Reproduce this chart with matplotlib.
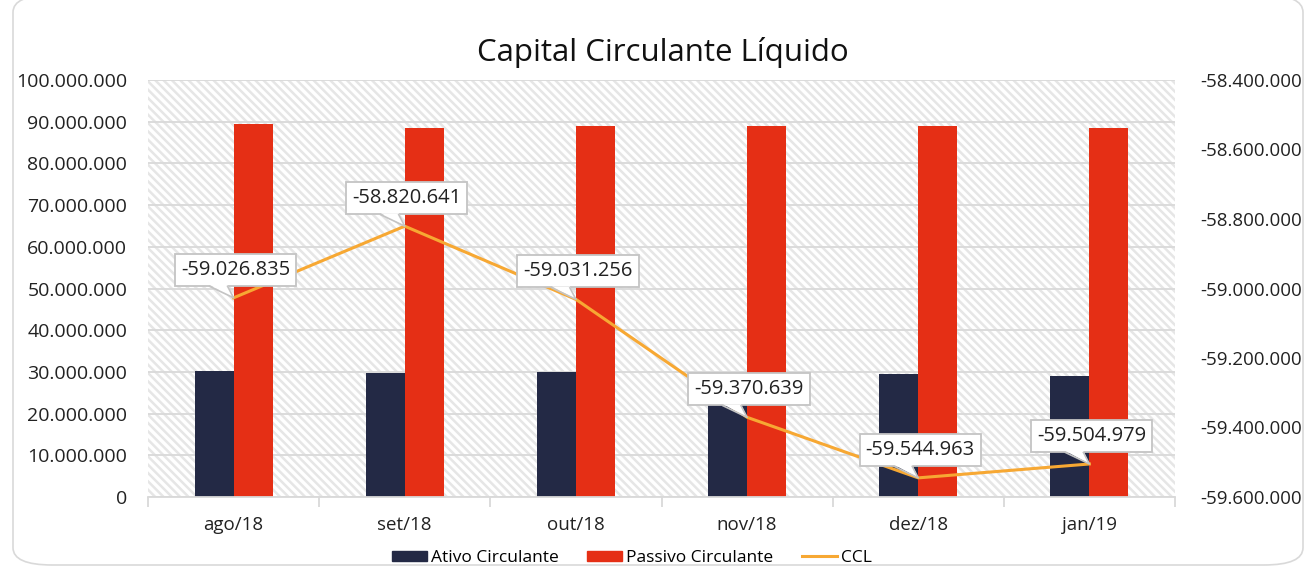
import matplotlib
matplotlib.use("Agg")
import matplotlib.pyplot as plt
from matplotlib.patches import Rectangle, FancyBboxPatch, Polygon
from matplotlib.ticker import FuncFormatter, MultipleLocator
from matplotlib.lines import Line2D
from matplotlib.transforms import IdentityTransform

plt.rcParams['font.family'] = ['Open Sans', 'DejaVu Sans']
plt.rcParams['hatch.linewidth'] = 1.8
plt.rcParams['hatch.color'] = '#e6e6e6'

categories = ["ago/18", "set/18", "out/18", "nov/18", "dez/18", "jan/19"]
ativo = [30300000, 29700000, 29970000, 29600000, 29400000, 29100000]
passivo = [89330000, 88520000, 89000000, 88970000, 88950000, 88600000]
ccl = [-59026835, -58820641, -59031256, -59370639, -59544963, -59504979]
ccl_labels = ["-59.026.835", "-58.820.641", "-59.031.256", "-59.370.639", "-59.544.963", "-59.504.979"]

NAVY = "#232945"
RED = "#E52F15"
ORANGE = "#F7A833"
GRID = "#d9d9d9"

W, H = 1310, 575
fig = plt.figure(figsize=(W / 100, H / 100), dpi=100)

# outer rounded border
fig.patches.append(FancyBboxPatch((13 / W, 10 / H), (W - 20) / W, (H - 5) / H,
                                  boxstyle="round,pad=0,rounding_size=0.03",
                                  transform=fig.transFigure, fc="white", ec="#d9d9d9", lw=1.2,
                                  zorder=-10))

ax = fig.add_axes([148 / W, (H - 497) / H, (1175 - 148) / W, (497 - 80) / H])
ax.set_facecolor("none")
ax.add_patch(Rectangle((0, 0), 1, 1, transform=ax.transAxes, fc="white",
                       ec="#e6e6e6", hatch="\\\\\\\\", lw=0, zorder=0))

x = list(range(len(categories)))
bw = 0.228
ax.bar([i - bw / 2 for i in x], ativo, width=bw, color=NAVY, zorder=3, label="Ativo Circulante")
ax.bar([i + bw / 2 for i in x], passivo, width=bw, color=RED, zorder=3, label="Passivo Circulante")

ax.set_xlim(-0.5, len(categories) - 0.5)
ax.set_ylim(0, 100000000)
ax.yaxis.set_major_locator(MultipleLocator(10000000))
fmt = lambda v, p: "0" if v == 0 else f"{v:,.0f}".replace(",", ".")
ax.yaxis.set_major_formatter(FuncFormatter(fmt))
ax.grid(axis="y", color=GRID, lw=1.3, zorder=1)
ax.set_axisbelow(False)
for s in ["top", "right", "left"]:
    ax.spines[s].set_visible(False)
ax.spines["bottom"].set_color(GRID)
ax.spines["bottom"].set_linewidth(1.3)
ax.spines["bottom"].set_zorder(4)
ax.set_xticks(x)
ax.set_xticklabels(categories)
ax.set_xticks([i - 0.5 for i in range(len(categories) + 1)], minor=True)
ax.tick_params(axis="x", which="major", length=0, labelsize=13.5, pad=14, colors="#222222")
ax.tick_params(axis="x", which="minor", length=7, color=GRID, width=1.3)
ax.tick_params(axis="y", length=0, labelsize=14, pad=15, colors="#222222")

ax2 = ax.twinx()
ax2.set_ylim(-59600000, -58400000)
ax2.yaxis.set_major_locator(MultipleLocator(200000))
ax2.yaxis.set_major_formatter(FuncFormatter(lambda v, p: f"{v:,.0f}".replace(",", ".")))
ax2.tick_params(axis="y", length=0, labelsize=13.5, pad=18, colors="#222222")
for s in ["top", "right", "left", "bottom"]:
    ax2.spines[s].set_visible(False)
ax2.plot(x, ccl, color=ORANGE, lw=2.2, zorder=5, label="CCL")

BOX_EC = "#c4c4c4"
for i, (v, t) in enumerate(zip(ccl, ccl_labels)):
    px, py = ax2.transData.transform((i, v))
    ax2.annotate(t, xy=(i, v), xytext=(2, 28), textcoords="offset pixels",
                 ha="center", va="center", fontsize=14.5, color="#222222",
                 bbox=dict(boxstyle="square,pad=0.3", fc="white", ec=BOX_EC, lw=1.3),
                 zorder=6)
    # callout tail (speech-bubble) from box bottom to the point
    by = py + 11.5
    tail = [(px - 24, by + 1.5), (px - 6, by + 1.5), (px, py)]
    ax2.add_patch(Polygon(tail, closed=True, transform=IdentityTransform(),
                          fc="white", ec="none", zorder=7))
    ax2.add_line(Line2D([px - 24, px, px - 6], [by, py, by], transform=IdentityTransform(),
                        color=BOX_EC, lw=1.2, zorder=7))

fig.text(663 / W, 1 - 52 / H, "Capital Circulante Líquido", ha="center", va="center",
         fontsize=22.5, color="#111111")

handles = [Rectangle((0, 0), 1, 1, color=NAVY), Rectangle((0, 0), 1, 1, color=RED),
           Line2D([0], [0], color=ORANGE, lw=2.2)]
fig.legend(handles, ["Ativo Circulante", "Passivo Circulante", "CCL"], loc="center",
           bbox_to_anchor=(632 / W, 1 - 558 / H), ncol=3, frameon=False, fontsize=12.5,
           handlelength=2.0, handleheight=0.55, handletextpad=0.25, columnspacing=1.65)

fig.savefig("out.png", dpi=100)
